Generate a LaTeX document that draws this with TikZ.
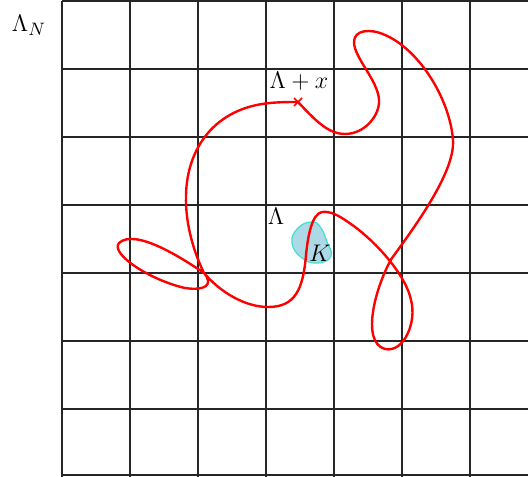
\documentclass[tikz,border=0pt]{standalone}
\usetikzlibrary{calc}
\begin{document}
\begin{tikzpicture}[x=0.5pt,y=-0.5pt,
  gridline/.style={draw=black!85,line width=0.65pt},
  walk/.style={draw=red,line width=1.2pt},
  blob/.style={fill={rgb,255:red,173;green,216;blue,230},draw={rgb,255:red,64;green,224;blue,208},line width=0.6pt},
  lbl/.style={font=\fontsize{13}{15}\selectfont,inner sep=0pt}]
\useasboundingbox (0,0) rectangle (528,476);
\begin{scope}
\clip (0,0) rectangle (528,476);
\foreach \x in {62,130,198,266,334,402,470} \draw[gridline] (\x,1) -- (\x,480);
\foreach \y in {1,69,137,205,273,341,409,475} \draw[gridline] (62,\y) -- (530,\y);
\end{scope}
% compact set K
\path[blob] plot[smooth cycle,tension=0.8] coordinates {(312,222) (321,228) (327,242) (331,256) (318,263) (302,258) (292,243) (298,228)};
% the walk
\coordinate (xpt) at (298,102);
\coordinate (cr) at (204,273);
\draw[walk] (xpt)
  .. controls (315,120) and (328,134) .. (345,134)
  .. controls (365,134) and (380,115) .. (379,100)
  .. controls (378,80) and (354,58) .. (354,42)
  .. controls (354,30) and (370,28) .. (385,35)
  .. controls (420,50) and (450,100) .. (453,140)
  .. controls (455,170) and (420,220) .. (392,258)
  .. controls (376,285) and (360,342) .. (385,349)
  .. controls (404,353) and (417,322) .. (411,300)
  .. controls (406,275) and (375,240) .. (348,222)
  .. controls (338,215) and (330,211) .. (322,212)
  .. controls (312,214) and (308,235) .. (306,255)
  .. controls (303,290) and (295,307) .. (268,307)
  .. controls (245,307) and (220,292) .. (cr)
  .. controls (182,258) and (135,228) .. (119,243)
  .. controls (110,254) and (150,280) .. (185,288)
  .. controls (205,291) and (214,285) .. (cr)
  .. controls (195,255) and (185,225) .. (186,195)
  .. controls (187,148) and (215,108) .. (270,103)
  .. controls (280,102) and (290,102) .. (xpt);
\draw[red,line width=0.8pt] ($(xpt)+(-4,-4)$) -- ($(xpt)+(4,4)$) ($(xpt)+(-4,4)$) -- ($(xpt)+(4,-4)$);
\node[lbl] (lamN) at (29,25) {$\Lambda_N$};
\node[lbl] (lamx) at (299,81) {$\Lambda+x$};
\node[lbl] (lam) at (276,216) {$\Lambda$};
\node[lbl] (K) at (320,253) {$K$};
\end{tikzpicture}
\end{document}
